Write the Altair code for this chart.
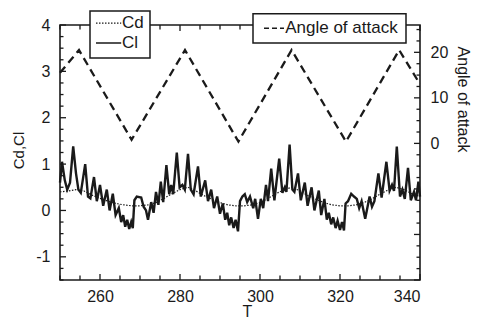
import altair as alt
import pandas as pd

# ---------------- data ----------------
cd_t = [250, 252, 254, 256, 258, 260, 262, 264, 266, 268, 270, 272, 274, 276, 278,
        280, 282, 284, 286, 288, 290, 292, 294, 296, 298, 300, 302, 304, 306, 308,
        310, 312, 314, 316, 318, 320, 322, 324, 326, 328, 330, 332, 334, 336, 338, 340]
cd_v = [0.40, 0.42, 0.45, 0.42, 0.33, 0.26, 0.20, 0.15, 0.12, 0.10, 0.10, 0.12, 0.17, 0.26, 0.36,
        0.45, 0.50, 0.42, 0.32, 0.24, 0.17, 0.12, 0.10, 0.10, 0.12, 0.17, 0.26, 0.36, 0.45, 0.50,
        0.42, 0.32, 0.24, 0.17, 0.12, 0.10, 0.10, 0.12, 0.17, 0.25, 0.35, 0.44, 0.50, 0.45, 0.36, 0.30]

cl_t = [250.0, 250.5, 251.2, 251.8, 252.5, 253.3, 254.0, 254.6, 255.2, 256.3, 257.0, 257.6,
        258.5, 259.2, 260.0, 260.8, 261.7, 262.4, 263.2, 263.9, 264.7, 265.3, 265.8, 266.3,
        266.8, 267.3, 267.8, 268.2, 268.6, 269.2, 270.3, 270.9, 271.5, 272.0, 272.8, 273.4,
        274.0, 274.6, 275.2, 275.8, 276.6, 277.3, 277.8, 278.3, 279.2, 279.9, 280.6, 281.2,
        282.0, 282.7, 283.4, 284.5, 285.2, 286.3, 287.0, 287.8, 288.5, 289.3, 290.0, 290.7,
        291.3, 291.8, 292.3, 292.8, 293.4, 293.9, 294.5, 295.0, 295.6, 296.2, 296.8, 297.5,
        298.3, 298.8, 299.5, 300.2, 300.8, 301.5, 302.0, 302.8, 303.6, 304.8, 305.6, 306.2,
        306.6, 307.4, 308.1, 308.6, 309.5, 310.2, 311.2, 311.9, 312.9, 313.6, 314.7, 315.3,
        316.1, 316.7, 317.2, 317.8, 318.3, 318.9, 319.4, 320.0, 320.5, 321.0, 321.4, 322.0,
        322.8, 323.5, 324.2, 324.8, 325.4, 326.3, 327.4, 328.0, 328.6, 329.6, 330.4, 331.6,
        332.4, 333.0, 333.5, 334.2, 335.0, 335.6, 336.2, 337.0, 337.7, 338.5, 339.0, 339.6,
        340.0]
cl_v = [0.60, 1.05, 0.65, 0.45, 0.60, 1.38, 0.80, 0.45, 0.38, 1.00, 0.30, 0.26,
        0.72, 0.20, 0.55, 0.10, 0.45, 0.00, 0.36, -0.10, 0.05, -0.25, -0.10, -0.35,
        -0.20, -0.40, -0.25, -0.38, 0.22, 0.30, 0.28, 0.08, 0.00, -0.20, 0.18, -0.05,
        0.40, 0.12, 0.62, 0.18, 0.98, 0.35, 0.55, 0.35, 1.25, 0.50, 0.55, 0.45,
        1.22, 0.45, 0.35, 0.95, 0.30, 0.65, 0.20, 0.45, 0.05, 0.30, -0.07, 0.15,
        -0.20, -0.05, -0.32, -0.15, -0.38, -0.20, -0.45, 0.20, 0.30, 0.35, 0.18, 0.30,
        0.05, 0.25, -0.18, 0.25, 0.05, 0.55, 0.20, 0.90, 0.22, 1.12, 0.38, 0.50,
        0.40, 1.42, 0.45, 0.40, 0.80, 0.22, 0.60, 0.10, 0.50, 0.00, 0.43, -0.10,
        0.25, -0.20, -0.05, -0.30, -0.15, -0.38, -0.22, -0.42, -0.25, -0.43, 0.15, 0.20,
        0.36, 0.30, 0.25, 0.05, 0.20, -0.18, 0.30, 0.08, 0.20, 0.80, 0.28, 1.05,
        0.43, 0.55, 0.42, 1.38, 0.30, 0.45, 0.25, 0.92, 0.22, 0.40, 0.22, 0.62,
        0.30]

aoa_t = [250, 254.75, 267.9, 281.25, 294.6, 307.9, 321.5, 334.8, 340]
aoa_v = [15.5, 20.5, 0.8, 20.5, 0.4, 20.5, 0.4, 20.5, 13.0]

x_labels = [260, 280, 300, 320, 340]
y_labels = [-1, 0, 1, 2, 3, 4]
aoa_labels = [0, 10, 20]
x_ticks = [250, 255, 260, 265, 270, 275, 280, 285, 290, 295, 300, 305, 310, 315, 320,
           325, 330, 335, 340]
y_ticks = [-1.5, -1.25, -1, -0.75, -0.5, -0.25, 0, 0.25, 0.5, 0.75, 1, 1.25, 1.5, 1.75,
           2, 2.25, 2.5, 2.75, 3, 3.25, 3.5, 3.75, 4]
aoa_ticks = [-30, -27.5, -25, -22.5, -20, -17.5, -15, -12.5, -10, -7.5, -5, -2.5, 0,
             2.5, 5, 7.5, 10, 12.5, 15, 17.5, 20, 22.5, 25]

# ---------------- layout ----------------
W, H = 360, 255
XMIN, XMAX = 250, 340
YMIN, YMAX = -1.5, 4
AMIN, AMAX = -30, 26
PX_X = W / (XMAX - XMIN)
PX_Y = H / (YMAX - YMIN)
FONT = "Liberation Sans"
INK = "#1a1a1a"

xs = alt.Scale(domain=[XMIN, XMAX], nice=False, zero=False)
ys = alt.Scale(domain=[YMIN, YMAX], nice=False, zero=False)
ars = alt.Scale(domain=[AMIN, AMAX], nice=False, zero=False)

cd_df = pd.DataFrame({"T": cd_t, "v": cd_v})
cl_df = pd.DataFrame({"T": cl_t, "v": cl_v})
aoa_df = pd.DataFrame({"T": aoa_t, "v": aoa_v})
one_df = pd.DataFrame({"k": [0]})

x_axis = alt.Axis(values=x_labels, title="T", grid=False, ticks=False, domain=False,
                  labelFont=FONT, labelFontSize=16, labelColor=INK, labelPadding=8,
                  titleFont=FONT, titleFontSize=16, titleFontWeight="normal", titleColor=INK,
                  titleX=187, titleY=31, titleBaseline="middle", titleAlign="center")
y_axis = alt.Axis(values=y_labels, title="Cd,Cl", orient="left", grid=False, ticks=False,
                  domain=False, labelFont=FONT, labelFontSize=16, labelColor=INK,
                  labelPadding=10, labelExpr="'' + datum.value",
                  titleFont=FONT, titleFontSize=15, titleFontWeight="normal", titleColor=INK,
                  titleAngle=270, titleX=-42, titleY=125, titleAlign="center",
                  titleBaseline="middle")
a_axis = alt.Axis(values=aoa_labels, title="Angle of attack", orient="right", grid=False,
                  ticks=False, domain=False, labelFont=FONT, labelFontSize=16,
                  labelColor=INK, labelPadding=10, labelExpr="'' + datum.value",
                  titleFont=FONT, titleFontSize=16, titleFontWeight="normal", titleColor=INK,
                  titleAngle=90, titleX=42, titleY=74, titleAlign="center",
                  titleBaseline="middle")


def fx(field):
    return alt.X(field, type="quantitative", scale=xs, axis=x_axis)


def fy(field):
    return alt.Y(field, type="quantitative", scale=ys, axis=y_axis)


def fa(field):
    return alt.Y(field, type="quantitative", scale=ars, axis=a_axis)


def dx(v):
    return alt.XDatum(v, scale=xs, axis=x_axis)


def dy(v):
    return alt.YDatum(v, scale=ys, axis=y_axis)


# ---------------- left-scale layers ----------------
cl = alt.Chart(cl_df).mark_line(color=INK, strokeWidth=2.4).encode(x=fx("T"), y=fy("v"))
cd = alt.Chart(cd_df).mark_line(color=INK, strokeWidth=1.2, strokeDash=[1.5, 1.5]).encode(
    x=fx("T"), y=fy("v"))

xt_df = pd.DataFrame({"T": x_ticks})
bottom_ticks = alt.Chart(xt_df).transform_calculate(
    a=f"{YMIN}", b=f"{YMIN} + (datum.T % 20 == 0 ? 6 : 4.5) / {PX_Y}"
).mark_rule(color=INK, strokeWidth=1.3).encode(x=fx("T"), y=fy("a"), y2="b:Q")
top_ticks = alt.Chart(xt_df).transform_calculate(
    a=f"{YMAX}", b=f"{YMAX} - (datum.T % 20 == 0 ? 6 : 4.5) / {PX_Y}"
).mark_rule(color=INK, strokeWidth=1.3).encode(x=fx("T"), y=fy("a"), y2="b:Q")
yt_df = pd.DataFrame({"v": y_ticks})
left_ticks = alt.Chart(yt_df).transform_calculate(
    a=f"{XMIN}", b=f"{XMIN} + (datum.v % 1 == 0 ? 6 : 3.5) / {PX_X}"
).mark_rule(color=INK, strokeWidth=1.3).encode(y=fy("v"), x=fx("a"), x2="b:Q")

frame = alt.Chart(one_df).mark_rect(fillOpacity=0, stroke=INK, strokeWidth=1.6).encode(
    x=dx(XMIN), x2=alt.X2Datum(XMAX), y=dy(YMIN), y2=alt.Y2Datum(YMAX))


def box(x1, x2, y1, y2):
    return alt.Chart(one_df).mark_rect(fill="white", stroke=INK, strokeWidth=1.5).encode(
        x=dx(x1), x2=alt.X2Datum(x2), y=dy(y1), y2=alt.Y2Datum(y2))


def sample(x1, x2, y, dash, width):
    return alt.Chart(one_df).mark_rule(color=INK, strokeWidth=width, strokeDash=dash).encode(
        x=dx(x1), x2=alt.X2Datum(x2), y=dy(y))


def label(x, y, txt):
    return alt.Chart(one_df).mark_text(text=txt, font=FONT, fontSize=17, color=INK,
                                       align="left", baseline="middle").encode(
        x=dx(x), y=dy(y))


legend1 = [
    box(257.5, 272.5, 4.30, 3.29),
    sample(259.0, 265.3, 4.04, [1.5, 1.5], 1.2),
    label(265.5, 4.04, "Cd"),
    sample(259.0, 265.3, 3.61, [1, 0], 1.5),
    label(265.5, 3.61, "Cl"),
]
legend2 = [
    box(298.25, 336.5, 4.24, 3.61),
    sample(301.0, 306.0, 3.93, [5, 3], 1.5),
    label(306.3, 3.93, "Angle of attack"),
]

left = alt.layer(cl, cd, frame, bottom_ticks, top_ticks, left_ticks, *legend1, *legend2)

# ---------------- right-scale layers ----------------
aoa = alt.Chart(aoa_df).mark_line(color=INK, strokeWidth=2.3, strokeDash=[8, 5]).encode(
    x=fx("T"), y=fa("v"))
at_df = pd.DataFrame({"v": aoa_ticks})
right_ticks = alt.Chart(at_df).transform_calculate(
    a=f"{XMAX}", b=f"{XMAX} - (datum.v % 10 == 0 ? 6 : 3.5) / {PX_X}"
).mark_rule(color=INK, strokeWidth=1.3).encode(y=fa("v"), x=fx("a"), x2="b:Q")

right = alt.layer(aoa, right_ticks)

chart = alt.layer(right, left).resolve_scale(y="independent").properties(
    width=W, height=H,
    autosize=alt.AutoSizeParams(type="none"),
    padding={"left": 52, "top": 17, "right": 51, "bottom": 40},
).configure_view(stroke=None)

chart.save("out.html", embed_options={"renderer": "svg", "actions": False})
